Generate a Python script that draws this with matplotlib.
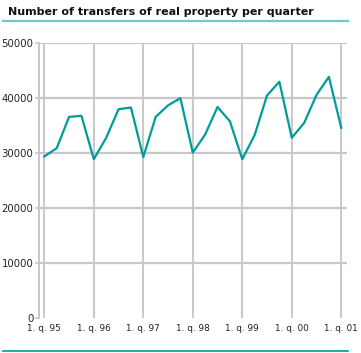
import matplotlib
matplotlib.use("Agg")
import matplotlib.pyplot as plt
from matplotlib.lines import Line2D

# quarterly transfers, 1. q. 1995 - 1. q. 2001
transfers = [29300, 30800, 36500, 36700,
             28800, 32700, 37900, 38200,
             29200, 36500, 38600, 39900,
             30000, 33300, 38300, 35700,
             28800, 33200, 40400, 42900,
             32700, 35400, 40500, 43800,
             34500]
year_labels = ["1. q. 95", "1. q. 96", "1. q. 97", "1. q. 98",
               "1. q. 99", "1. q. 00", "1. q. 01"]
y_ticks = [0, 10000, 20000, 30000, 40000, 50000]

quarters = list(range(len(transfers)))
year_pos = quarters[::4]

fig = plt.figure(figsize=(3.61, 3.53), dpi=100)
ax = fig.add_axes([39 / 361, 1 - 317.5 / 353, 307.7 / 361, 274.8 / 353])

grid_col = "#c8c8c8"
for y in y_ticks[1:]:
    ax.axhline(y, color=grid_col, lw=1.6, zorder=1)
for x in year_pos:
    ax.axvline(x, color=grid_col, lw=1.4, zorder=1)

ax.plot(quarters, transfers, color="#009b9b", lw=1.6, zorder=3)

ax.set_xlim(-0.43, 24.44)
ax.set_ylim(0, 50000)
ax.set_xticks(year_pos)
ax.set_xticklabels(year_labels)
ax.set_yticks(y_ticks)
ax.set_yticklabels([str(v) for v in y_ticks])
ax.tick_params(axis="x", length=0, pad=5, labelsize=6.4, colors="#222222")
ax.tick_params(axis="y", length=3, width=1.2, color=grid_col, pad=1,
               labelsize=7.3, labelcolor="#222222")
for s in ["top", "right", "bottom"]:
    ax.spines[s].set_visible(False)
ax.spines["left"].set_color(grid_col)
ax.spines["left"].set_linewidth(1.4)

fig.text(8 / 361, 1 - 12 / 353, "Number of transfers of real property per quarter",
         fontsize=8, fontweight="bold", va="center", ha="left", color="#111111")
fig.add_artist(Line2D([3 / 361, 348 / 361], [1 - 21 / 353, 1 - 21 / 353],
                      color="#66cccc", lw=1.6))
fig.add_artist(Line2D([3 / 361, 348 / 361], [1 - 351 / 353, 1 - 351 / 353],
                      color="#009b9b", lw=1.2))

fig.savefig("out.png", dpi=100)
